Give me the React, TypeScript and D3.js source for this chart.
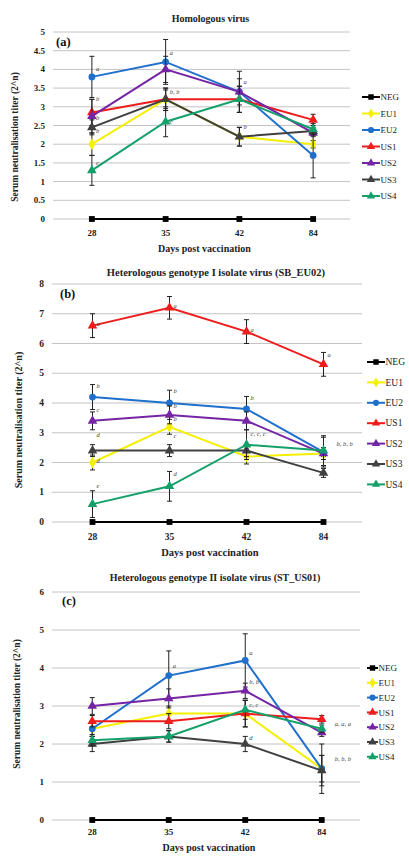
import * as d3 from 'd3';

const days = ['28', '35', '42', '84'];
const groups = ['NEG', 'EU1', 'EU2', 'US1', 'US2', 'US3', 'US4'];
const colors: Record<string, string> = {
  NEG: '#000000',
  EU1: '#f4f000',
  EU2: '#1f6fcc',
  US1: '#ee1c1c',
  US2: '#7424a4',
  US3: '#404040',
  US4: '#14a06a',
};
const shapes: Record<string, d3.SymbolType> = {
  NEG: d3.symbolSquare,
  EU1: d3.symbolDiamond,
  EU2: d3.symbolCircle,
  US1: d3.symbolTriangle,
  US2: d3.symbolTriangle,
  US3: d3.symbolTriangle,
  US4: d3.symbolTriangle,
};

// panel (a) homologous virus
const homMean = [
  [0, 0, 0, 0],
  [2.0, 3.2, 2.2, 2.0],
  [3.8, 4.2, 3.4, 1.7],
  [2.85, 3.2, 3.2, 2.65],
  [2.75, 4.0, 3.4, 2.3],
  [2.45, 3.2, 2.2, 2.35],
  [1.3, 2.6, 3.2, 2.4],
];
const homErr = [
  [0, 0, 0, 0],
  [0.3, 0.3, 0.25, 0.1],
  [0.55, 0.6, 0.55, 0.6],
  [0.35, 0.25, 0.35, 0.15],
  [0.45, 0.35, 0.35, 0.1],
  [0.2, 0.3, 0.25, 0.1],
  [0.4, 0.4, 0.35, 0.15],
];
const homLetters: [number, number, string][] = [
  [0, 4.0, 'a'], [0, 3.2, 'b'], [0, 2.7, 'b'], [0, 2.35, 'b'], [0, 1.5, 'c'],
  [1, 4.45, 'a'], [1, 3.4, 'b, b'], [1, 2.6, 'c'],
  [2, 3.65, 'a'], [2, 2.45, 'b'],
];

// panel (b) genotype I
const g1Mean = [
  [0, 0, 0, 0],
  [2.0, 3.2, 2.2, 2.3],
  [4.2, 4.0, 3.8, 2.35],
  [6.6, 7.2, 6.4, 5.3],
  [3.4, 3.6, 3.4, 2.3],
  [2.4, 2.4, 2.4, 1.65],
  [0.6, 1.2, 2.6, 2.4],
];
const g1Err = [
  [0, 0, 0, 0],
  [0.25, 0.25, 0.25, 0.1],
  [0.42, 0.43, 0.42, 0.5],
  [0.4, 0.38, 0.4, 0.4],
  [0.3, 0.3, 0.3, 0.2],
  [0.2, 0.2, 0.2, 0.15],
  [0.45, 0.5, 0.5, 0.5],
];
const g1Letters: [number, number, string][] = [
  [0, 6.67, 'a'], [0, 4.56, 'b'], [0, 3.75, 'c'], [0, 2.93, 'd'], [0, 2.06, 'd'], [0, 1.2, 'e'],
  [1, 7.27, 'a'], [1, 4.39, 'b'], [1, 3.9, 'b'], [1, 3.46, 'b'], [1, 2.9, 'c'], [1, 1.6, 'd'],
  [2, 6.46, 'a'], [2, 4.17, 'b'], [2, 2.96, 'c, c, c'],
  [3, 5.6, 'a'], [3, 2.62, 'b, b, b'],
];

// panel (c) genotype II
const g2Mean = [
  [0, 0, 0, 0],
  [2.4, 2.8, 2.8, 1.35],
  [2.4, 3.8, 4.2, 1.35],
  [2.6, 2.6, 2.8, 2.65],
  [3.0, 3.2, 3.4, 2.3],
  [2.0, 2.2, 2.0, 1.3],
  [2.1, 2.2, 2.9, 2.4],
];
const g2Err = [
  [0, 0, 0, 0],
  [0.2, 0.2, 0.35, 0.35],
  [0.2, 0.65, 0.7, 0.65],
  [0.15, 0.2, 0.35, 0.1],
  [0.22, 0.25, 0.2, 0.1],
  [0.2, 0.15, 0.2, 0.4],
  [0.15, 0.15, 0.25, 0.1],
];
const g2Letters: [number, number, string][] = [
  [1, 4.04, 'a'],
  [2, 4.39, 'a'], [2, 3.62, 'b, b'], [2, 3.03, 'c, c'], [2, 2.15, 'd'],
  [3, 2.53, 'a, a, a'], [3, 1.6, 'b, b, b'],
];

const FONT = '"Liberation Serif", "DejaVu Serif", serif';

interface PanelProps {
  title: string;
  tag: string;
  mean: number[][];
  err: number[][];
  letters: [number, number, string][];
  yMax: number;
  yStep: number;
  top: number; // y of yMax gridline
  bottom: number; // y of zero
  x0: number;
  x1: number;
  titleY: number;
  tagX: number;
  tagY: number;
  tickY: number;
  xLabelY: number;
  yTitleX: number;
  yTitleY: number;
  legX: number;
  legY: number;
  legStep: number;
  legLen: number;
  fs: number;
}

function Panel(p: PanelProps) {
  const x = d3.scalePoint<string>().domain(days).range([p.x0, p.x1]).padding(0.5);
  const y = d3.scaleLinear().domain([0, p.yMax]).range([p.bottom, p.top]);
  const ticks = d3.range(0, p.yMax + p.yStep / 2, p.yStep);
  const line = d3
    .line<number>()
    .x((_, i) => x(days[i])!)
    .y((d) => y(d));
  const sym = (g: string, s: number) => d3.symbol().type(shapes[g]).size(s)()!;
  const size = (g: string) => (g === 'EU2' ? 36 : g === 'NEG' ? 34 : 40);
  return (
    <g fontFamily={FONT}>
      <text x={(p.x0 + p.x1) / 2 + 8} y={p.titleY} textAnchor="middle" fontSize={p.fs + 0.5} fontWeight="bold" fill="#222">
        {p.title}
      </text>
      {ticks.map((t) => (
        <g key={t}>
          <line x1={p.x0 - 2} x2={p.x1} y1={y(t)} y2={y(t)} stroke="#c4c4c4" strokeWidth={1} />
          <text x={p.x0 - 10} y={y(t) + 3} textAnchor="end" fontSize={p.fs - 0.5} fontWeight="bold" fill="#222">
            {d3.format('~g')(t)}
          </text>
        </g>
      ))}
      <text x={p.tagX} y={p.tagY} fontSize={12.5} fontWeight="bold" fill="#111">
        {p.tag}
      </text>
      {days.map((d) => (
        <text key={d} x={x(d)} y={p.tickY} textAnchor="middle" fontSize={p.fs - 0.5} fontWeight="bold" fill="#222">
          {d}
        </text>
      ))}
      <text x={(p.x0 + p.x1) / 2 + 2} y={p.xLabelY} textAnchor="middle" fontSize={p.fs + 0.5} fontWeight="bold" fill="#222">
        Days post vaccination
      </text>
      <text
        transform={`translate(${p.yTitleX},${p.yTitleY}) rotate(-90)`}
        textAnchor="middle"
        fontSize={p.fs}
        fontWeight="bold"
        fill="#222"
      >
        Serum neutralisation  titer (2^n)
      </text>
      {groups.map((g, gi) => (
        <g key={g}>
          <path d={line(p.mean[gi])!} fill="none" stroke={colors[g]} strokeWidth={2} />
          {p.mean[gi].map((v, i) => {
            const cx = x(days[i])!;
            const e = p.err[gi][i];
            return (
              <g key={i}>
                {e > 0 && (
                  <g stroke="#222" strokeWidth={1}>
                    <line x1={cx} x2={cx} y1={y(v - e)} y2={y(v + e)} />
                    <line x1={cx - 2.5} x2={cx + 2.5} y1={y(v - e)} y2={y(v - e)} />
                    <line x1={cx - 2.5} x2={cx + 2.5} y1={y(v + e)} y2={y(v + e)} />
                  </g>
                )}
                <path d={sym(g, size(g))} transform={`translate(${cx},${y(v)})`} fill={colors[g]} />
              </g>
            );
          })}
        </g>
      ))}
      {p.letters.map(([i, v, t], k) => (
        <text
          key={k}
          x={x(days[i])! + (i === 3 && t.length > 1 ? 13 : 4)}
          y={y(v) + 2}
          fontSize={6.5}
          fontStyle="italic"
          fill="#444"
        >
          {t}
        </text>
      ))}
      {groups.map((g, gi) => {
        const ly = p.legY + gi * p.legStep;
        return (
          <g key={g}>
            <line x1={p.legX} x2={p.legX + p.legLen} y1={ly} y2={ly} stroke={colors[g]} strokeWidth={2} />
            <path d={sym(g, 30)} transform={`translate(${p.legX + p.legLen / 2},${ly})`} fill={colors[g]} />
            <text x={p.legX + p.legLen + 0.5} y={ly + 3.2} fontSize={p.fs - 0.5} fill="#222">
              {g}
            </text>
          </g>
        );
      })}
    </g>
  );
}

export default function App() {
  return (
    <svg width={409} height={856} style={{ position: 'absolute', left: 0, top: 0, background: '#fff' }}>
      <rect width={409} height={856} fill="#fff" />
      <Panel
        title="Homologous virus"
        tag="(a)"
        mean={homMean}
        err={homErr}
        letters={homLetters}
        yMax={5}
        yStep={0.5}
        top={32}
        bottom={219}
        x0={55}
        x1={350}
        titleY={22}
        tagX={56}
        tagY={46}
        tickY={236}
        xLabelY={252}
        yTitleX={18}
        yTitleY={137}
        legX={362}
        legY={97}
        legStep={16.5}
        legLen={18}
        fs={9.5}
      />
      <Panel
        title="Heterologous genotype I isolate virus (SB_EU02)"
        tag="(b)"
        mean={g1Mean}
        err={g1Err}
        letters={g1Letters}
        yMax={8}
        yStep={1}
        top={284}
        bottom={522}
        x0={54}
        x1={362}
        titleY={276}
        tagX={60}
        tagY={298}
        tickY={540}
        xLabelY={556}
        yTitleX={22}
        yTitleY={420}
        legX={367}
        legY={362}
        legStep={20.4}
        legLen={18}
        fs={10}
      />
      <Panel
        title="Heterologous genotype II isolate virus (ST_US01)"
        tag="(c)"
        mean={g2Mean}
        err={g2Err}
        letters={g2Letters}
        yMax={6}
        yStep={1}
        top={592}
        bottom={820}
        x0={54}
        x1={360}
        titleY={581}
        tagX={62}
        tagY={605}
        tickY={835}
        xLabelY={851}
        yTitleX={20}
        yTitleY={704}
        legX={367}
        legY={668}
        legStep={14.8}
        legLen={11}
        fs={9.5}
      />
    </svg>
  );
}
